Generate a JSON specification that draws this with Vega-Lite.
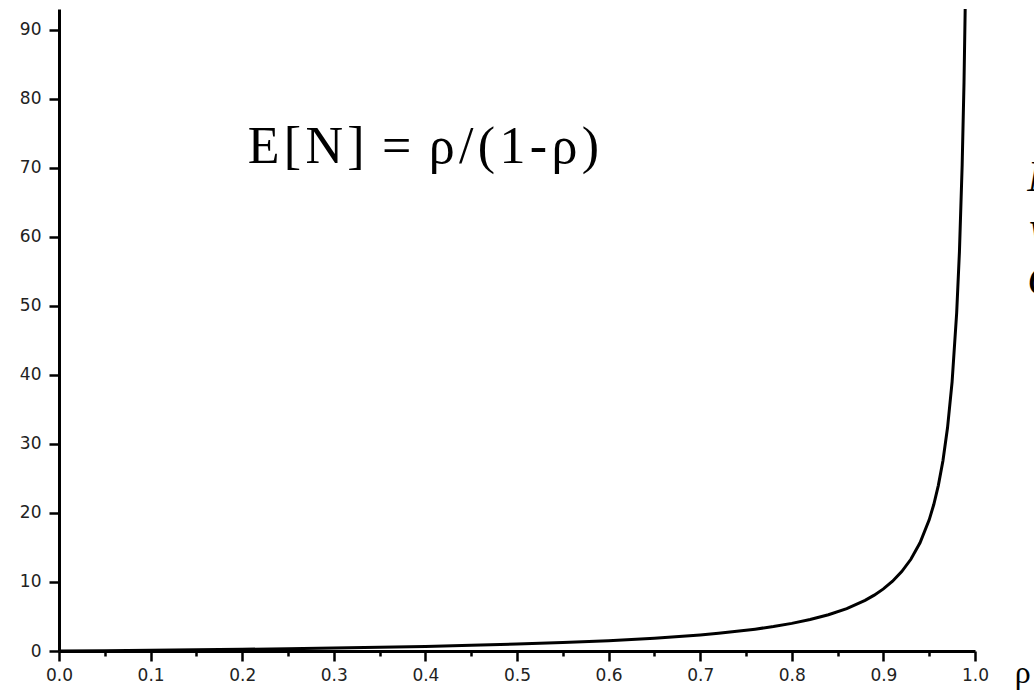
{
  "$schema": "https://vega.github.io/schema/vega-lite/v6.json",
  "width": 916,
  "height": 642,
  "autosize": {"type": "none"},
  "padding": {"left": 59, "top": 9, "right": 59, "bottom": 39},
  "background": "white",
  "config": {"view": {"stroke": null}},
  "layer": [
    {
      "data": {"values": [
        {"rho": 0, "EN": 0}, {"rho": 0.05, "EN": 0.0526}, {"rho": 0.1, "EN": 0.1111}, {"rho": 0.15, "EN": 0.1765},
        {"rho": 0.2, "EN": 0.25}, {"rho": 0.25, "EN": 0.3333}, {"rho": 0.3, "EN": 0.4286}, {"rho": 0.35, "EN": 0.5385},
        {"rho": 0.4, "EN": 0.6667}, {"rho": 0.45, "EN": 0.8182}, {"rho": 0.5, "EN": 1}, {"rho": 0.55, "EN": 1.2222},
        {"rho": 0.6, "EN": 1.5}, {"rho": 0.65, "EN": 1.8571}, {"rho": 0.7, "EN": 2.3333}, {"rho": 0.72, "EN": 2.5714},
        {"rho": 0.74, "EN": 2.8462}, {"rho": 0.76, "EN": 3.1667}, {"rho": 0.78, "EN": 3.5455}, {"rho": 0.8, "EN": 4},
        {"rho": 0.82, "EN": 4.5556}, {"rho": 0.84, "EN": 5.25}, {"rho": 0.86, "EN": 6.1429}, {"rho": 0.88, "EN": 7.3333},
        {"rho": 0.89, "EN": 8.0909}, {"rho": 0.9, "EN": 9}, {"rho": 0.91, "EN": 10.1111}, {"rho": 0.92, "EN": 11.5},
        {"rho": 0.93, "EN": 13.2857}, {"rho": 0.94, "EN": 15.6667}, {"rho": 0.95, "EN": 19}, {"rho": 0.955, "EN": 21.2222},
        {"rho": 0.96, "EN": 24}, {"rho": 0.965, "EN": 27.5714}, {"rho": 0.97, "EN": 32.3333}, {"rho": 0.975, "EN": 39},
        {"rho": 0.98, "EN": 49}, {"rho": 0.983, "EN": 57.8235}, {"rho": 0.986, "EN": 70.4286}, {"rho": 0.988, "EN": 82.3333},
        {"rho": 0.99, "EN": 99}
      ]},
      "mark": {"type": "line", "color": "black", "strokeWidth": 3, "clip": true},
      "encoding": {
        "x": {
          "field": "rho", "type": "quantitative",
          "scale": {"domain": [0, 1], "nice": false, "zero": false},
          "axis": {
            "title": null, "grid": false,
            "values": [0, 0.05, 0.1, 0.15, 0.2, 0.25, 0.3, 0.35, 0.4, 0.45, 0.5, 0.55, 0.6, 0.65, 0.7, 0.75, 0.8, 0.85, 0.9, 0.95, 1],
            "labelExpr": "round(datum.value*100) % 10 === 0 ? format(datum.value, '.1f') : ''",
            "tickSize": {"condition": {"test": "round(datum.value*100) % 10 === 0", "value": 10}, "value": 5},
            "tickWidth": 2.5, "tickColor": "black",
            "domainColor": "black", "domainWidth": 3,
            "labelFont": "DejaVu Sans", "labelFontSize": 17, "labelColor": "#222",
            "labelPadding": 6, "labelFlush": false, "labelOverlap": false
          }
        },
        "y": {
          "field": "EN", "type": "quantitative",
          "scale": {"domain": [0, 93], "nice": false},
          "axis": {
            "title": null, "grid": false,
            "values": [0, 5, 10, 15, 20, 25, 30, 35, 40, 45, 50, 55, 60, 65, 70, 75, 80, 85, 90],
            "labelExpr": "datum.value % 10 === 0 ? format(datum.value, 'd') : ''",
            "tickSize": {"condition": {"test": "datum.value % 10 === 0", "value": 10}, "value": 5},
            "tickWidth": 2.5, "tickColor": "black",
            "domainColor": "black", "domainWidth": 3,
            "labelFont": "DejaVu Sans", "labelFontSize": 17, "labelColor": "#222",
            "labelPadding": 8, "labelFlush": false, "labelOverlap": false
          }
        }
      }
    },
    {
      "data": {"values": [{"label": "E\u200a[\u200aN\u200a]\u200a = \u200aρ\u200a/\u200a(\u200a1\u200a-\u200aρ\u200a)"}]},
      "mark": {"type": "text", "font": "Liberation Serif", "fontSize": 52, "align": "left", "baseline": "alphabetic", "color": "black"},
      "encoding": {
        "x": {"datum": 0.206},
        "y": {"datum": 70.7},
        "text": {"field": "label"}
      }
    },
    {
      "data": {"values": [{"label": "ρ"}]},
      "mark": {"type": "text", "font": "Liberation Serif", "fontSize": 32, "align": "center", "baseline": "alphabetic", "color": "black", "clip": false},
      "encoding": {
        "x": {"datum": 1.052},
        "y": {"datum": -4.6},
        "text": {"field": "label"}
      }
    },
    {
      "data": {"values": [{"label": "N", "row": 66.6}, {"label": "W", "row": 57.9}, {"label": "C", "row": 51.5}]},
      "mark": {"type": "text", "font": "Liberation Serif", "fontStyle": "italic", "fontSize": 44, "align": "left", "baseline": "alphabetic", "color": "black", "clip": false},
      "encoding": {
        "x": {"datum": 1.057},
        "y": {"field": "row", "type": "quantitative"},
        "text": {"field": "label"}
      }
    }
  ]
}
